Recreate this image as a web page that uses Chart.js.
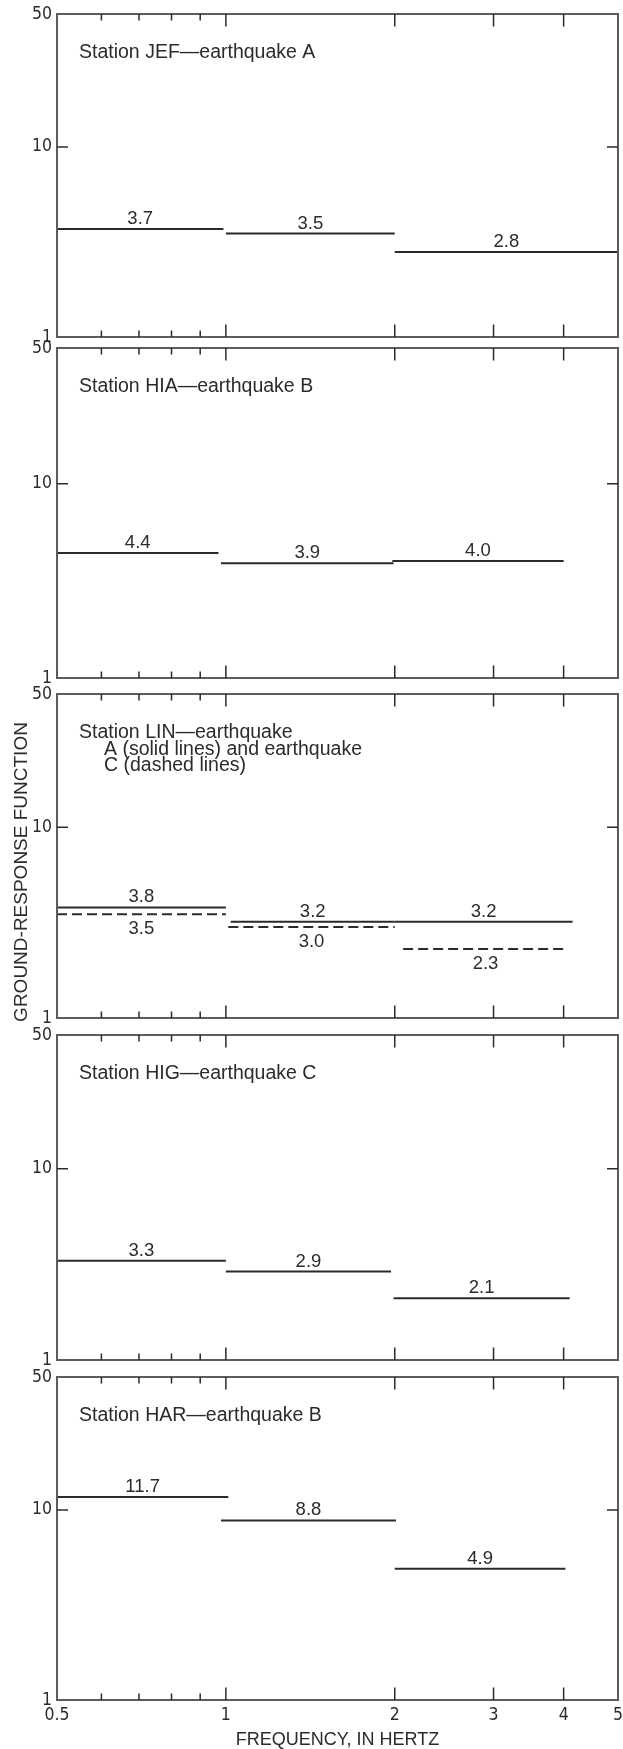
<!DOCTYPE html>
<html>
<head>
<meta charset="utf-8">
<title>Ground-response function</title>
<script src="https://cdn.jsdelivr.net/npm/chart.js@4"></script>
<style>
  html, body { margin: 0; padding: 0; background: #fff; }
  #wrap { position: relative; width: 623px; height: 1749px; }
  #wrap canvas { position: absolute; left: 0; }
</style>
</head>
<body>
<div id="wrap"></div>
<script>
// axes
const xMin = 0.5, xMax = 5;
const yMin = 1, yMax = 50;
const xTickLabels = [0.5, 1, 2, 3, 4, 5];
const xMajorTicks = [1, 2, 3, 4];
const xMinorTicks = [0.6, 0.7, 0.8, 0.9];
const yTickLabels = [1, 10, 50];
const yInnerTicks = [10];

// panel captions
const jefTitle = ['Station JEF\u2014earthquake A'];
const hiaTitle = ['Station HIA\u2014earthquake B'];
const linTitle = ['Station LIN\u2014earthquake', 'A (solid lines) and earthquake', 'C (dashed lines)'];
const higTitle = ['Station HIG\u2014earthquake C'];
const harTitle = ['Station HAR\u2014earthquake B'];

// segments: start / end frequency (Hz) and ground-response value
const jefStart = [0.5, 1.0, 2.0],   jefEnd = [0.99, 2.0, 5.0],  jefValue = [3.7, 3.5, 2.8];
const hiaStart = [0.5, 0.98, 1.98], hiaEnd = [0.97, 1.99, 4.0], hiaValue = [4.4, 3.9, 4.0];
const linSolidStart = [0.5, 1.02, 2.0],  linSolidEnd = [1.0, 2.0, 4.15], linSolidValue = [3.8, 3.2, 3.2];
const linDashStart  = [0.5, 1.01, 2.07], linDashEnd  = [1.0, 2.0, 4.07], linDashValue  = [3.5, 3.0, 2.3];
const higStart = [0.5, 1.0, 1.99], higEnd = [1.0, 1.97, 4.1],  higValue = [3.3, 2.9, 2.1];
const harStart = [0.5, 0.98, 2.0], harEnd = [1.01, 2.01, 4.03], harValue = [11.7, 8.8, 4.9];

const textFont = '"Liberation Sans", Arial, Helvetica, sans-serif';
const tickFont = '"Liberation Sans Narrow", "Arial Narrow", "DejaVu Sans Condensed", sans-serif';
const inkColor = '#2b2b2b';
const frameColor = '#5c5c5c';

const panels = [
  { top: 14,   bottom: 337,  title: jefTitle, series: [{ start: jefStart, end: jefEnd, value: jefValue }] },
  { top: 348,  bottom: 678,  title: hiaTitle, series: [{ start: hiaStart, end: hiaEnd, value: hiaValue }] },
  { top: 694,  bottom: 1018, title: linTitle, yTitle: 'GROUND-RESPONSE FUNCTION', series: [
      { start: linSolidStart, end: linSolidEnd, value: linSolidValue },
      { start: linDashStart, end: linDashEnd, value: linDashValue, dashed: true }] },
  { top: 1035, bottom: 1360, title: higTitle, series: [{ start: higStart, end: higEnd, value: higValue }] },
  { top: 1377, bottom: 1700, title: harTitle, xTitle: 'FREQUENCY, IN HERTZ', series: [{ start: harStart, end: harEnd, value: harValue }] }
];

function makeDecor(panel) {
  return {
    id: 'panelDecor',
    afterDatasetsDraw(chart) {
      const { ctx, chartArea: a, scales: { x, y } } = chart;
      ctx.save();

      // frame
      ctx.strokeStyle = frameColor;
      ctx.lineWidth = 2;
      ctx.strokeRect(a.left, a.top, a.right - a.left, a.bottom - a.top);

      // inward ticks on all four sides
      ctx.strokeStyle = inkColor;
      ctx.lineWidth = 1.5;
      ctx.beginPath();
      const xTick = (v, len) => {
        const px = x.getPixelForValue(v);
        ctx.moveTo(px, a.top); ctx.lineTo(px, a.top + len);
        ctx.moveTo(px, a.bottom); ctx.lineTo(px, a.bottom - len);
      };
      xMajorTicks.forEach(v => xTick(v, 12.5));
      xMinorTicks.forEach(v => xTick(v, 6.5));
      yInnerTicks.forEach(v => {
        const py = y.getPixelForValue(v);
        ctx.moveTo(a.left, py); ctx.lineTo(a.left + 11, py);
        ctx.moveTo(a.right, py); ctx.lineTo(a.right - 11, py);
      });
      ctx.stroke();

      // caption
      ctx.fillStyle = inkColor;
      ctx.textAlign = 'left';
      ctx.textBaseline = 'alphabetic';
      ctx.font = '19.5px ' + textFont;
      panel.title.forEach((line, i) => {
        ctx.fillText(line, a.left + 22 + (i ? 25 : 0), a.top + 44 + i * 16.5);
      });

      // value labels at the (log) middle of each segment
      ctx.textAlign = 'center';
      ctx.font = '18.5px ' + textFont;
      panel.series.forEach(s => {
        s.value.forEach((v, i) => {
          const px = x.getPixelForValue(Math.sqrt(s.start[i] * s.end[i]));
          const py = y.getPixelForValue(v);
          ctx.fillText(v.toFixed(1), px, s.dashed ? py + 20 : py - 5);
        });
      });

      // shared y-axis title, drawn beside the middle panel
      if (panel.yTitle) {
        ctx.translate(22, (a.top + a.bottom) / 2 + 16);
        ctx.rotate(-Math.PI / 2);
        ctx.textBaseline = 'middle';
        ctx.font = '19px ' + textFont;
        ctx.fillText(panel.yTitle, 0, 0);
      }
      ctx.restore();
    }
  };
}

const wrap = document.getElementById('wrap');
panels.forEach((panel, idx) => {
  const last = idx === panels.length - 1;
  const padTop = 14;
  const padBottom = last ? 0 : 14;
  const xAxisHeight = last ? 1749 - panel.bottom : 0;
  const canvas = document.createElement('canvas');
  canvas.width = 623;
  canvas.height = padTop + (panel.bottom - panel.top) + padBottom + xAxisHeight;
  canvas.style.top = (panel.top - padTop) + 'px';
  wrap.appendChild(canvas);

  const datasets = [];
  panel.series.forEach(s => {
    s.value.forEach((v, i) => {
      datasets.push({
        data: [{ x: s.start[i], y: v }, { x: s.end[i], y: v }],
        showLine: true,
        borderColor: inkColor,
        borderWidth: 2,
        borderDash: s.dashed ? [10, 5] : [],
        pointRadius: 0,
        fill: false
      });
    });
  });

  new Chart(canvas, {
    type: 'scatter',
    data: { datasets },
    options: {
      responsive: false,
      animation: false,
      events: [],
      layout: { padding: { top: padTop, bottom: padBottom, left: 0, right: 5 } },
      plugins: { legend: { display: false }, tooltip: { enabled: false } },
      scales: {
        x: {
          type: 'logarithmic',
          min: xMin, max: xMax,
          grid: { display: false, drawTicks: false },
          border: { display: false },
          afterBuildTicks: s => { s.ticks = xTickLabels.map(v => ({ value: v })); },
          afterFit: s => { s.height = xAxisHeight; s.paddingLeft = 0; s.paddingRight = 0; },
          ticks: {
            display: last,
            autoSkip: false,
            maxRotation: 0,
            padding: 5,
            color: inkColor,
            font: { family: tickFont, size: 17.5 },
            callback: v => String(v)
          },
          title: {
            display: !!panel.xTitle,
            text: panel.xTitle || '',
            color: inkColor,
            font: { family: textFont, size: 18, lineHeight: 1 },
            padding: { top: 0, bottom: 0 }
          }
        },
        y: {
          type: 'logarithmic',
          min: yMin, max: yMax,
          grid: { display: false, drawTicks: false },
          border: { display: false },
          afterBuildTicks: s => { s.ticks = yTickLabels.map(v => ({ value: v })); },
          afterFit: s => { s.width = 57; s.paddingTop = 0; s.paddingBottom = 0; },
          ticks: {
            autoSkip: false,
            padding: 5,
            color: inkColor,
            font: { family: tickFont, size: 17.5 },
            callback: v => String(v)
          }
        }
      }
    },
    plugins: [makeDecor(panel)]
  });
});
</script>
</body>
</html>
